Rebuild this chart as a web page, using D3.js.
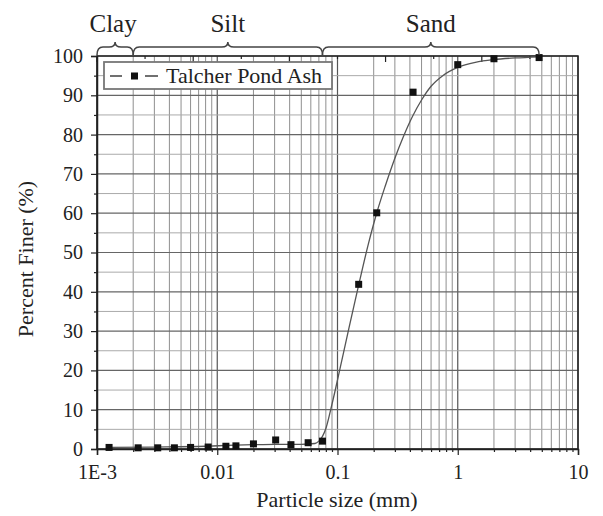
<!DOCTYPE html>
<html>
<head>
<meta charset="utf-8">
<script src="https://cdn.jsdelivr.net/npm/d3@7"></script>
<style>
  body { margin: 0; background: #fff; }
  text { font-family: "Liberation Serif", "Times New Roman", serif; fill: #222; }
</style>
</head>
<body>
<svg width="603" height="516"></svg>
<script>
// sieve / hydrometer results
const sizes = [0.00126, 0.0022, 0.0032, 0.0044, 0.006, 0.0084, 0.0118, 0.0143, 0.02, 0.0306, 0.041, 0.057, 0.075, 0.15, 0.212, 0.425, 1.0, 2.0, 4.75];
const finer = [0.4, 0.3, 0.3, 0.3, 0.4, 0.5, 0.7, 0.8, 1.3, 2.3, 1.1, 1.6, 2.0, 41.9, 60.1, 90.8, 97.8, 99.3, 99.6];

// fitted curve
const fitSize = [0.00126, 0.003, 0.008, 0.012, 0.02, 0.03, 0.05, 0.065, 0.07, 0.075, 0.08, 0.087, 0.095, 0.105, 0.125, 0.152, 0.18, 0.214, 0.25, 0.30, 0.35, 0.42, 0.5, 0.6, 0.75, 1.0, 1.4, 2.0, 3.0, 4.75];
const fitFiner = [0.4, 0.5, 0.7, 0.9, 1.1, 1.2, 1.2, 1.4, 2.0, 3.2, 5.2, 9.5, 14.5, 20.5, 31, 42.5, 52, 60.5, 67, 74, 79.2, 84.6, 88.8, 92.3, 95, 97.1, 98.4, 99.1, 99.5, 99.8];

const xTickValues = [0.001, 0.01, 0.1, 1, 10];
const xTickLabels = ['1E-3', '0.01', '0.1', '1', '10'];
const yTickValues = [0, 10, 20, 30, 40, 50, 60, 70, 80, 90, 100];
const topTicks = [0.001, 0.00251, 0.00631, 0.01585, 0.0398, 0.1, 0.251, 0.631, 1.585, 3.98];

const zones = ['Clay', 'Silt', 'Sand'];
const zoneFrom = [0.001, 0.002, 0.075];
const zoneTo = [0.002, 0.075, 4.75];

const svg = d3.select('svg');
const pLeft = 97, pRight = 578, pTop = 56, pBottom = 449;

const x = d3.scaleLog().domain([0.001, 10]).range([pLeft, pRight]);
const y = d3.scaleLinear().domain([0, 100]).range([pBottom, pTop]);

// minor values 2..9 in each decade
const minorX = [];
for (let d = -3; d < 1; d++) {
  for (let m = 2; m <= 9; m++) minorX.push(m * Math.pow(10, d));
}
const minorY = d3.range(5, 100, 10);

const grid = svg.append('g');
grid.selectAll('.vmin').data(minorX).join('line')
  .attr('x1', d => x(d)).attr('x2', d => x(d))
  .attr('y1', pTop).attr('y2', pBottom)
  .attr('stroke', '#8f8f8f').attr('stroke-width', 1);
grid.selectAll('.vmaj').data(xTickValues).join('line')
  .attr('x1', d => x(d)).attr('x2', d => x(d))
  .attr('y1', pTop).attr('y2', pBottom)
  .attr('stroke', '#555').attr('stroke-width', 1.2);
grid.selectAll('.hmin').data(minorY).join('line')
  .attr('x1', pLeft).attr('x2', pRight)
  .attr('y1', d => y(d)).attr('y2', d => y(d))
  .attr('stroke', '#aaa').attr('stroke-width', 1);
grid.selectAll('.hmaj').data(yTickValues).join('line')
  .attr('x1', pLeft).attr('x2', pRight)
  .attr('y1', d => y(d)).attr('y2', d => y(d))
  .attr('stroke', '#666').attr('stroke-width', 1.2);

// axes
const xAxis = svg.append('g')
  .attr('transform', `translate(0,${pBottom})`)
  .call(d3.axisBottom(x).tickValues(xTickValues).tickFormat((d, i) => xTickLabels[i]).tickSize(6).tickPadding(10));
svg.append('g')
  .attr('transform', `translate(0,${pBottom})`)
  .call(d3.axisBottom(x).tickValues(minorX).tickFormat('').tickSize(3))
  .call(g => g.select('.domain').remove());

const yAxis = svg.append('g')
  .attr('transform', `translate(${pLeft},0)`)
  .call(d3.axisLeft(y).tickValues(yTickValues).tickSize(6).tickPadding(8));
svg.append('g')
  .attr('transform', `translate(${pLeft},0)`)
  .call(d3.axisLeft(y).tickValues(minorY).tickFormat('').tickSize(3))
  .call(g => g.select('.domain').remove());

// top axis ticks pointing inward
svg.append('g').selectAll('line').data(topTicks).join('line')
  .attr('x1', d => x(d)).attr('x2', d => x(d))
  .attr('y1', pTop).attr('y2', (d, i) => pTop + (i % 2 === 0 ? 6 : 3))
  .attr('stroke', '#222').attr('stroke-width', 1.2);

[xAxis, yAxis].forEach(a => {
  a.selectAll('.domain').attr('stroke', '#222').attr('stroke-width', 1.5);
  a.selectAll('text').attr('font-size', 20).attr('fill', '#333')
    .attr('font-family', '"Liberation Serif", serif');
});
svg.selectAll('.tick line').attr('stroke', '#222').attr('stroke-width', 1.2);

// frame
svg.append('rect')
  .attr('x', pLeft).attr('y', pTop)
  .attr('width', pRight - pLeft).attr('height', pBottom - pTop)
  .attr('fill', 'none').attr('stroke', '#222').attr('stroke-width', 1.5);

// fitted curve
const line = d3.line()
  .x((d, i) => x(fitSize[i]))
  .y((d, i) => y(fitFiner[i]))
  .curve(d3.curveMonotoneX);
svg.append('path')
  .datum(fitFiner)
  .attr('d', line)
  .attr('fill', 'none')
  .attr('stroke', '#555')
  .attr('stroke-width', 1.3);

// points
svg.append('g').selectAll('rect').data(finer).join('rect')
  .attr('x', (d, i) => x(sizes[i]) - 3.5)
  .attr('y', d => y(d) - 3.5)
  .attr('width', 7).attr('height', 7)
  .attr('fill', '#111');

// braces + zone labels
function brace(x1, x2, yb, yt, r) {
  const mid = (x1 + x2) / 2;
  const ym = yb - 8;
  return `M${x1},${yb} Q${x1},${ym} ${x1 + r},${ym} L${mid - r},${ym} Q${mid},${ym} ${mid},${yt}` +
    ` Q${mid},${ym} ${mid + r},${ym} L${x2 - r},${ym} Q${x2},${ym} ${x2},${yb}`;
}
const zg = svg.append('g');
zones.forEach((z, i) => {
  const x1 = x(zoneFrom[i]), x2 = x(zoneTo[i]);
  zg.append('path')
    .attr('d', brace(x1, x2, 55, 42, 6))
    .attr('fill', 'none').attr('stroke', '#444').attr('stroke-width', 1.5);
  zg.append('text')
    .attr('x', (x1 + x2) / 2 - (i === 0 ? 2 : 0)).attr('y', 32)
    .attr('text-anchor', 'middle').attr('font-size', 25)
    .text(z);
});

// legend
const lg = svg.append('g');
lg.append('rect')
  .attr('x', 104).attr('y', 62).attr('width', 228).attr('height', 27)
  .attr('fill', '#fff').attr('stroke', '#777').attr('stroke-width', 1.8);
lg.append('line').attr('x1', 110).attr('x2', 122).attr('y1', 76).attr('y2', 76)
  .attr('stroke', '#222').attr('stroke-width', 1.3);
lg.append('line').attr('x1', 145).attr('x2', 158).attr('y1', 76).attr('y2', 76)
  .attr('stroke', '#222').attr('stroke-width', 1.3);
lg.append('rect').attr('x', 131).attr('y', 72.5).attr('width', 7).attr('height', 7).attr('fill', '#111');
lg.append('text').attr('x', 166).attr('y', 83).attr('font-size', 22).text('Talcher Pond Ash');

// axis titles
svg.append('text')
  .attr('x', 337).attr('y', 507)
  .attr('text-anchor', 'middle').attr('font-size', 22)
  .text('Particle size (mm)');
svg.append('text')
  .attr('transform', 'translate(33,259) rotate(-90)')
  .attr('text-anchor', 'middle').attr('font-size', 22)
  .text('Percent Finer (%)');
</script>
</body>
</html>
